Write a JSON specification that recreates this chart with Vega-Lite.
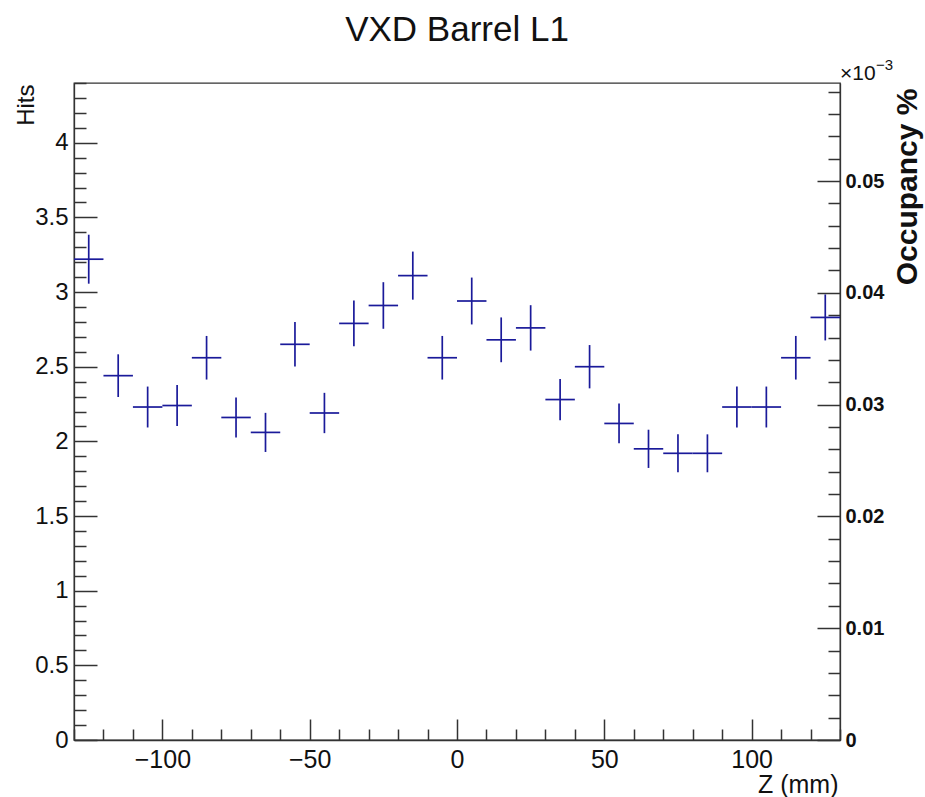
{
  "$schema": "https://vega.github.io/schema/vega-lite/v6.json",
  "width": 766,
  "height": 657,
  "autosize": "none",
  "padding": {"left": 74, "top": 83, "right": 85, "bottom": 57},
  "background": "white",
  "config": {
    "view": {"stroke": "#333", "strokeWidth": 1.3},
    "font": "Liberation Sans"
  },
  "title": {
    "text": "VXD Barrel L1",
    "fontSize": 35,
    "font": "Liberation Sans",
    "fontWeight": "normal",
    "color": "#111",
    "anchor": "middle",
    "baseline": "alphabetic",
    "offset": -18
  },
  "datasets": {
    "hist": [
      {"z": -125, "zlo": -130, "zhi": -120, "hits": 3.22, "lo": 3.056, "hi": 3.384},
      {"z": -115, "zlo": -120, "zhi": -110, "hits": 2.44, "lo": 2.297, "hi": 2.583},
      {"z": -105, "zlo": -110, "zhi": -100, "hits": 2.23, "lo": 2.093, "hi": 2.367},
      {"z": -95, "zlo": -100, "zhi": -90, "hits": 2.24, "lo": 2.103, "hi": 2.377},
      {"z": -85, "zlo": -90, "zhi": -80, "hits": 2.56, "lo": 2.414, "hi": 2.706},
      {"z": -75, "zlo": -80, "zhi": -70, "hits": 2.16, "lo": 2.026, "hi": 2.294},
      {"z": -65, "zlo": -70, "zhi": -60, "hits": 2.06, "lo": 1.929, "hi": 2.191},
      {"z": -55, "zlo": -60, "zhi": -50, "hits": 2.65, "lo": 2.501, "hi": 2.799},
      {"z": -45, "zlo": -50, "zhi": -40, "hits": 2.19, "lo": 2.055, "hi": 2.325},
      {"z": -35, "zlo": -40, "zhi": -30, "hits": 2.79, "lo": 2.637, "hi": 2.943},
      {"z": -25, "zlo": -30, "zhi": -20, "hits": 2.91, "lo": 2.754, "hi": 3.066},
      {"z": -15, "zlo": -20, "zhi": -10, "hits": 3.11, "lo": 2.949, "hi": 3.271},
      {"z": -5, "zlo": -10, "zhi": 0, "hits": 2.56, "lo": 2.414, "hi": 2.706},
      {"z": 5, "zlo": 0, "zhi": 10, "hits": 2.94, "lo": 2.783, "hi": 3.097},
      {"z": 15, "zlo": 10, "zhi": 20, "hits": 2.68, "lo": 2.53, "hi": 2.83},
      {"z": 25, "zlo": 20, "zhi": 30, "hits": 2.76, "lo": 2.608, "hi": 2.912},
      {"z": 35, "zlo": 30, "zhi": 40, "hits": 2.28, "lo": 2.142, "hi": 2.418},
      {"z": 45, "zlo": 40, "zhi": 50, "hits": 2.5, "lo": 2.355, "hi": 2.645},
      {"z": 55, "zlo": 50, "zhi": 60, "hits": 2.12, "lo": 1.987, "hi": 2.253},
      {"z": 65, "zlo": 60, "zhi": 70, "hits": 1.95, "lo": 1.822, "hi": 2.078},
      {"z": 75, "zlo": 70, "zhi": 80, "hits": 1.92, "lo": 1.793, "hi": 2.047},
      {"z": 85, "zlo": 80, "zhi": 90, "hits": 1.92, "lo": 1.793, "hi": 2.047},
      {"z": 95, "zlo": 90, "zhi": 100, "hits": 2.23, "lo": 2.093, "hi": 2.367},
      {"z": 105, "zlo": 100, "zhi": 110, "hits": 2.23, "lo": 2.093, "hi": 2.367},
      {"z": 115, "zlo": 110, "zhi": 120, "hits": 2.56, "lo": 2.414, "hi": 2.706},
      {"z": 125, "zlo": 120, "zhi": 130, "hits": 2.83, "lo": 2.676, "hi": 2.984}
    ],
    "occ": [{"occ": 0}, {"occ": 0.05}],
    "mult": [{"lab": "×10", "sup": "−3"}]
  },
  "layer": [
    {
      "data": {"name": "hist"},
      "layer": [
        {
          "mark": {"type": "rule", "color": "#1a1a9a", "strokeWidth": 1.7},
          "encoding": {
            "x": {
              "field": "zlo",
              "type": "quantitative",
              "scale": {"domain": [-130, 130], "nice": false, "zero": false},
              "axis": {
                "title": "Z (mm)",
                "values": [-130, -120, -110, -100, -90, -80, -70, -60, -50, -40, -30, -20, -10, 0, 10, 20, 30, 40, 50, 60, 70, 80, 90, 100, 110, 120, 130],
                "tickCount": 200,
                "labelExpr": "datum.value % 50 === 0 ? datum.label : ''",
                "tickSize": {"condition": {"test": "datum.value % 50 === 0", "value": -21}, "value": -11},
                "labelPadding": 28,
                "labelFontSize": 25,
                "labelColor": "#111",
                "labelOverlap": false,
                "labelFlush": false,
                "titleFontSize": 25,
                "titleFontWeight": "normal",
                "titleColor": "#111",
                "titleAlign": "right",
                "titleBaseline": "alphabetic",
                "titleX": 764,
                "titleY": 52,
                "domainColor": "#333",
                "domainWidth": 1.3,
                "tickColor": "#333",
                "tickWidth": 1.5,
                "grid": false
              }
            },
            "x2": {"field": "zhi"},
            "y": {
              "field": "hits",
              "type": "quantitative",
              "scale": {"domain": [0, 4.4], "nice": false, "zero": true},
              "axis": {
                "title": "Hits",
                "values": [0, 0.1, 0.2, 0.3, 0.4, 0.5, 0.6, 0.7, 0.8, 0.9, 1, 1.1, 1.2, 1.3, 1.4, 1.5, 1.6, 1.7, 1.8, 1.9, 2, 2.1, 2.2, 2.3, 2.4, 2.5, 2.6, 2.7, 2.8, 2.9, 3, 3.1, 3.2, 3.3, 3.4, 3.5, 3.6, 3.7, 3.8, 3.9, 4, 4.1, 4.2, 4.3, 4.4],
                "tickCount": 200,
                "format": ".2~f",
                "labelExpr": "abs(datum.value*2-round(datum.value*2)) < 0.001 ? datum.label : ''",
                "tickSize": {"condition": {"test": "abs(datum.value*2-round(datum.value*2)) < 0.001", "value": -23}, "value": -12},
                "labelPadding": 29,
                "labelFontSize": 24,
                "labelColor": "#111",
                "labelOverlap": false,
                "labelFlush": false,
                "titleFontSize": 24,
                "titleFontWeight": "normal",
                "titleColor": "#111",
                "titleAngle": 270,
                "titleAlign": "right",
                "titleBaseline": "alphabetic",
                "titleX": -41,
                "titleY": 1,
                "domainColor": "#333",
                "domainWidth": 1.3,
                "tickColor": "#333",
                "tickWidth": 1.5,
                "grid": false
              }
            }
          }
        },
        {
          "mark": {"type": "rule", "color": "#1a1a9a", "strokeWidth": 1.7},
          "encoding": {
            "x": {"field": "z", "type": "quantitative"},
            "y": {"field": "lo", "type": "quantitative"},
            "y2": {"field": "hi"}
          }
        }
      ]
    },
    {
      "data": {"name": "mult"},
      "layer": [
        {
          "mark": {"type": "text", "align": "left", "baseline": "alphabetic", "fontSize": 21, "color": "#111", "dy": -3},
          "encoding": {
            "text": {"field": "lab"},
            "x": {"datum": 130, "type": "quantitative", "scale": {"domain": [-130, 130], "nice": false, "zero": false}},
            "y": {"datum": 4.4, "type": "quantitative", "scale": {"domain": [0, 4.4], "nice": false}, "axis": null}
          }
        },
        {
          "mark": {"type": "text", "align": "left", "baseline": "alphabetic", "fontSize": 15, "color": "#111", "dx": 36, "dy": -13},
          "encoding": {
            "text": {"field": "sup"},
            "x": {"datum": 130, "type": "quantitative"},
            "y": {"datum": 4.4, "type": "quantitative"}
          }
        }
      ]
    },
    {
      "data": {"name": "occ"},
      "mark": {"type": "point", "opacity": 0},
      "encoding": {
        "y": {
          "field": "occ",
          "type": "quantitative",
          "scale": {"domain": [0, 0.05877], "nice": false, "zero": true},
          "axis": {
            "orient": "right",
            "title": "Occupancy %",
            "values": [0, 0.002, 0.004, 0.006, 0.008, 0.01, 0.012, 0.014, 0.016, 0.018, 0.02, 0.022, 0.024, 0.026, 0.028, 0.03, 0.032, 0.034, 0.036, 0.038, 0.04, 0.042, 0.044, 0.046, 0.048, 0.05, 0.052, 0.054, 0.056, 0.058],
            "tickCount": 200,
            "format": ".2~f",
            "labelExpr": "abs(datum.value*100-round(datum.value*100)) < 0.0001 ? datum.label : ''",
            "tickSize": {"condition": {"test": "abs(datum.value*100-round(datum.value*100)) < 0.0001", "value": -23}, "value": -12},
            "labelPadding": 28,
            "labelFontSize": 20,
            "labelFontWeight": "bold",
            "labelColor": "#111",
            "labelOverlap": false,
            "labelFlush": false,
            "titleFontSize": 30,
            "titleFontWeight": "bold",
            "titleColor": "#111",
            "titleAngle": 270,
            "titleAlign": "right",
            "titleBaseline": "alphabetic",
            "titleX": 76,
            "titleY": 5,
            "domainColor": "#333",
            "domainWidth": 1.3,
            "tickColor": "#333",
            "tickWidth": 1.5,
            "grid": false
          }
        }
      }
    }
  ],
  "resolve": {"scale": {"y": "independent"}}
}
